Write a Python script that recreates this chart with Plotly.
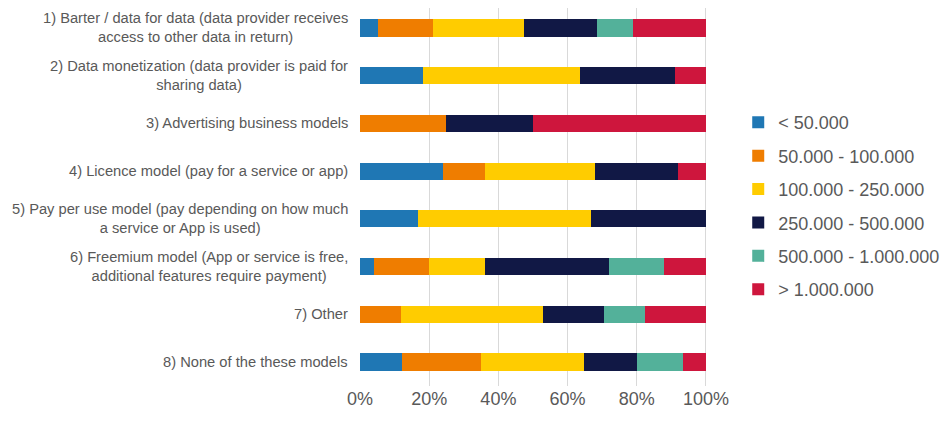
import plotly.graph_objects as go

# Categories (top to bottom)
categories = [
    "1) Barter / data for data (data provider receives<br>access to other data in return)",
    "2) Data monetization (data provider is paid for<br>sharing data)",
    "3) Advertising business models",
    "4) Licence model (pay for a service or app)",
    "5) Pay per use model (pay depending on how much<br>a service or App is used)",
    "6) Freemium model (App or service is free,<br>additional features require payment)",
    "7) Other",
    "8) None of the these models",
]

series_names = [
    "< 50.000",
    "50.000 - 100.000",
    "100.000 - 250.000",
    "250.000 - 500.000",
    "500.000 - 1.000.000",
    "> 1.000.000",
]
colors = ["#1f77b4", "#ef7d00", "#ffcc00", "#111845", "#53b19a", "#ce163d"]

# shares in percent, one list per revenue band
lt_50k = [5.3, 18.2, 0, 24, 16.7, 4, 0, 12.1]
k50_100k = [15.8, 0, 25, 12, 0, 16, 11.8, 22.9]
k100_250k = [26.3, 45.5, 0, 32, 50.0, 16, 41.2, 29.7]
k250_500k = [21.1, 27.3, 25, 24, 33.3, 36, 17.6, 15.4]
k500k_1m = [10.5, 0, 0, 0, 0, 16, 11.8, 13.3]
gt_1m = [21.1, 9.1, 50, 8, 0, 12, 17.6, 6.6]

values = [lt_50k, k50_100k, k100_250k, k250_500k, k500k_1m, gt_1m]

tick_vals = [0, 20, 40, 60, 80, 100]
tick_text = ["0%", "20%", "40%", "60%", "80%", "100%"]

fig = go.Figure()
for name, vals, col in zip(series_names, values, colors):
    fig.add_trace(go.Bar(
        y=categories, x=vals, name=name, orientation="h",
        marker=dict(color=col, line=dict(width=0)),
        legendgroup=name,
    ))

# centred, wrapped category labels
for cat in categories:
    fig.add_annotation(
        x=0, y=cat, xref="paper", yref="y", text=cat,
        xanchor="right", xshift=-10, align="center", showarrow=False,
        font=dict(family="Liberation Sans, Arial", size=14.7, color="#595959"),
    )

fig.update_layout(
    width=950, height=423,
    barmode="stack", bargap=0.64,
    plot_bgcolor="white", paper_bgcolor="white",
    margin=dict(l=352, r=251, t=0, b=45, autoexpand=False),
    font=dict(family="Liberation Sans, Arial", color="#595959"),
    xaxis=dict(
        range=[0, 100.3], tickmode="array", tickvals=tick_vals, ticktext=tick_text,
        showgrid=True, gridcolor="#d9d9d9", gridwidth=1, zeroline=False,
        tickfont=dict(size=18, color="#595959"), fixedrange=True,
    ),
    yaxis=dict(
        range=[7.503, -0.419], showticklabels=False, showgrid=False,
        zeroline=False,
    ),
    legend=dict(
        x=1.09, xanchor="left", y=0.476, yanchor="middle",
        traceorder="grouped", tracegroupgap=7,
        font=dict(size=18, color="#595959"),
    ),
)

fig.write_html("out.html")
